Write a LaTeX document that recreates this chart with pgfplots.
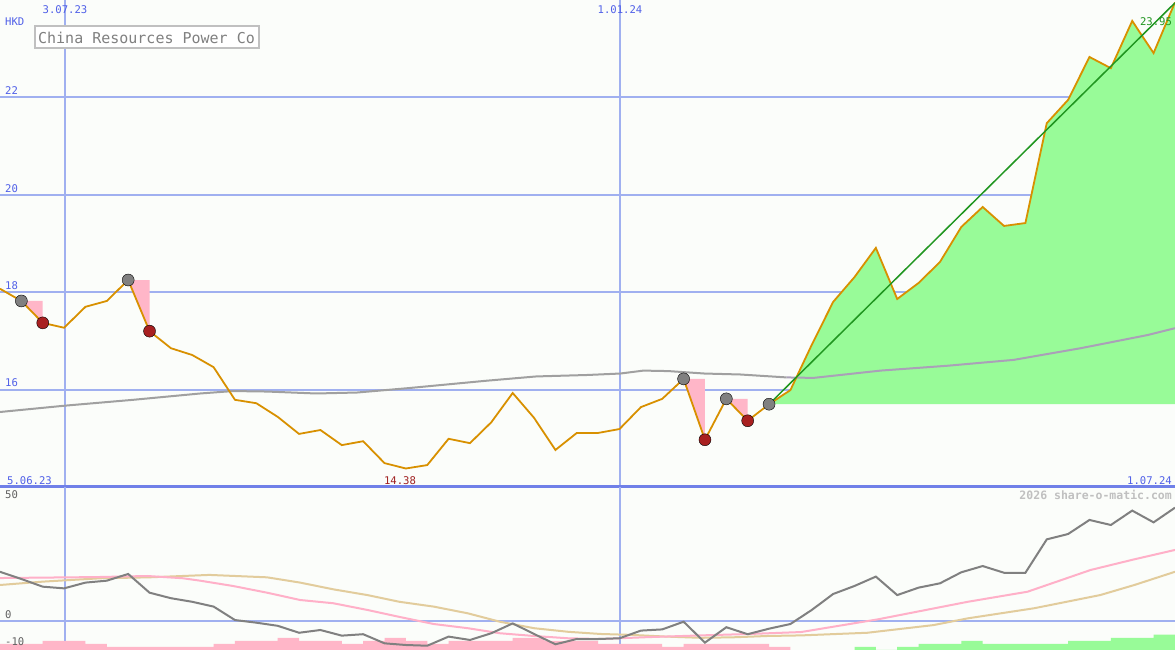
\documentclass[border=0pt]{standalone}
\usepackage{fontspec}
\setmainfont{DejaVu Sans Mono}
\usepackage{pgfplots}
\pgfplotsset{compat=1.18}
\definecolor{bgcol}{RGB}{251,253,250}
\definecolor{gridblue}{RGB}{160,176,240}
\definecolor{sepblue}{RGB}{112,128,232}
\definecolor{labblue}{RGB}{80,96,232}
\definecolor{pricecol}{RGB}{216,144,0}
\definecolor{magrey}{RGB}{160,160,160}
\definecolor{mapurple}{RGB}{170,160,184}
\definecolor{fillgreen}{RGB}{152,251,152}
\definecolor{trendgreen}{RGB}{32,150,32}
\definecolor{pinktri}{RGB}{255,182,200}
\definecolor{dotgrey}{RGB}{128,128,128}
\definecolor{dotred}{RGB}{168,32,32}
\definecolor{labred}{RGB}{160,32,32}
\definecolor{oscgrey}{RGB}{128,128,128}
\definecolor{oscpink}{RGB}{255,176,200}
\definecolor{osctan}{RGB}{226,204,156}
\definecolor{wmgrey}{RGB}{192,192,192}
\definecolor{boxgrey}{RGB}{192,192,192}
\definecolor{titlegrey}{RGB}{128,128,128}
\definecolor{textgrey}{RGB}{96,96,96}
\newcommand\lab{\fontsize{10.6}{12}\selectfont}
\begin{document}
\begin{tikzpicture}[x=1pt,y=1pt]
\fill[bgcol] (0,0) rectangle (1175,650);
% ---------------- main price panel
\begin{axis}[at={(0pt,163pt)}, anchor=south west, width=1175pt, height=487pt, scale only axis,
  xmin=0, xmax=55, ymin=14, ymax=24,
  axis line style={draw=none}, tick style={draw=none},
  xtick={3.04,29.04}, ytick={16,18,20,22}, xticklabels={}, yticklabels={},
  grid=major, major grid style={gridblue, line width=2pt}, clip=false]
% moving average
\addplot[magrey, line width=2pt] coordinates {
(0,15.54) (3.04,15.67) (6.23,15.79) (9.37,15.92) (10.91,15.97) (12.5,15.96) (14.8,15.92) (16.72,15.94)
(19.11,16.03) (22.72,16.18) (25.1,16.27) (27.5,16.30) (29.04,16.33) (30.12,16.39) (31.29,16.38)
(32.97,16.33) (34.66,16.31) (36.82,16.25)};
% green area above breakout level
\addplot[fill=fillgreen, draw=none] coordinates {
(36,15.70) (37,15.99) (38,16.92) (39,17.80) (40,18.31) (41,18.91) (42,17.86) (43,18.19) (44,18.62)
(45,19.34) (46,19.75) (47,19.36) (48,19.42) (49,21.47) (50,21.95) (51,22.83) (52,22.60) (53,23.57)
(54,22.91) (55,23.95) (55,15.70)} --cycle;
\addplot[mapurple, line width=2pt] coordinates {
(36.82,16.25) (38.08,16.24) (41.22,16.39) (44.36,16.49) (47.45,16.61) (50.59,16.85) (53.72,17.12) (55,17.26)};
% pink drop triangles
\addplot[fill=pinktri, draw=none] coordinates {(1,17.82) (2,17.82) (2,17.37)} --cycle;
\addplot[fill=pinktri, draw=none] coordinates {(6,18.25) (7,18.25) (7,17.20)} --cycle;
\addplot[fill=pinktri, draw=none] coordinates {(32,16.22) (33,16.22) (33,14.97)} --cycle;
\addplot[fill=pinktri, draw=none] coordinates {(34,15.81) (35,15.81) (35,15.36)} --cycle;
% circles
\addplot[only marks, mark=*, mark size=6pt, mark options={fill=dotgrey, draw=none}] coordinates {
(1,17.82) (6,18.25) (32,16.22) (34,15.81) (36,15.70)};
\addplot[only marks, mark=*, mark size=6pt, mark options={fill=dotred, draw=none}] coordinates {
(2,17.37) (7,17.20) (33,14.97) (35,15.36)};
% price
\addplot[pricecol, line width=1.8pt] coordinates {
(0,18.07) (1,17.82) (2,17.37) (3,17.27) (4,17.70) (5,17.82) (6,18.25) (7,17.20) (8,16.85) (9,16.71)
(10,16.46) (11,15.79) (12,15.72) (13,15.44) (14,15.09) (15,15.17) (16,14.86) (17,14.94) (18,14.49)
(19,14.38) (20,14.45) (21,14.99) (22,14.90) (23,15.33) (24,15.93) (25,15.42) (26,14.76) (27,15.11)
(28,15.11) (29,15.19) (30,15.64) (31,15.81) (32,16.22) (33,14.97) (34,15.81) (35,15.36) (36,15.70)
(37,15.99) (38,16.92) (39,17.80) (40,18.31) (41,18.91) (42,17.86) (43,18.19) (44,18.62) (45,19.34)
(46,19.75) (47,19.36) (48,19.42) (49,21.47) (50,21.95) (51,22.83) (52,22.60) (53,23.57) (54,22.91)
(55,23.95)};
% trend line
\addplot[trendgreen, line width=1.5pt] coordinates {(36,15.70) (55,23.94)};
\draw[sepblue, line width=3pt] (axis cs:0,14) -- (axis cs:55,14);
\end{axis}
% ---------------- lower panel grid
\begin{axis}[at={(0pt,0pt)}, anchor=south west, width=1175pt, height=163pt, scale only axis,
  xmin=0, xmax=55, ymin=-12.08, ymax=55.83,
  axis line style={draw=none}, tick style={draw=none},
  xtick={3.04,29.04}, ytick={0}, xticklabels={}, yticklabels={},
  grid=major, major grid style={gridblue, line width=2pt}]
\addplot[draw=none] coordinates {(0,0)};
\end{axis}
% ---------------- lower panel histogram
\begin{axis}[at={(0pt,0pt)}, anchor=south west, width=1175pt, height=163pt, scale only axis,
  xmin=0, xmax=55, ymin=0, ymax=53.4, hide axis]
\addplot[ybar interval, fill=pinktri, draw=none] coordinates {
(0,2) (2,3) (4,2) (5,1) (10,2) (11,3) (13,4) (14,3) (16,2) (17,3) (18,4) (19,3) (20,2) (21,3)
(24,4) (25.5,3) (28,2) (31,1) (32,2) (36,1) (37,1)};
\addplot[ybar interval, fill=fillgreen, draw=none] coordinates {
(40,1) (41,0) (42,1) (43,2) (45,3) (46,2) (50,3) (52,4) (54,5) (55,5)};
\end{axis}
% ---------------- lower panel lines
\begin{axis}[at={(0pt,0pt)}, anchor=south west, width=1175pt, height=163pt, scale only axis,
  xmin=0, xmax=55, ymin=-12.08, ymax=55.83, hide axis]
\addplot[osctan, line width=2pt] coordinates {
(0,15.0) (2.0,16.4) (4.7,17.8) (7.0,18.2) (9.8,19.2) (12.5,18.2) (14.05,16.0) (15.6,13.2) (17.2,10.8)
(18.7,8.0) (20.3,6.0) (21.9,3.2) (23.4,-0.3) (25.0,-3.0) (26.6,-4.5) (28.1,-5.4) (29.6,-5.8) (31.2,-6.5)
(32.8,-7.0) (34.3,-6.8) (35.9,-6.25) (37.5,-6.0) (40.6,-4.9) (43.7,-1.7) (45.3,1.1) (48.4,5.3)
(51.5,10.8) (53.1,15.0) (55,20.5)};
\addplot[oscpink, line width=2pt] coordinates {
(0,17.9) (4.5,18.3) (6.9,18.75) (8.57,17.8) (9.37,16.8) (10.9,14.6) (12.5,11.8) (14.05,8.75)
(15.6,7.4) (17.2,4.6) (18.7,1.7) (20.3,-1.25) (21.9,-3.0) (23.4,-5.1) (25.0,-6.25) (26.6,-7.2)
(28.1,-7.5) (30.4,-6.7) (32.8,-6.0) (35.1,-5.4) (37.5,-4.6) (41.1,0.7) (45.3,8.0) (48.1,12.2)
(51.05,21.25) (53.1,25.7) (55,29.6)};
\addplot[oscgrey, line width=2pt] coordinates {
(0,20.5) (1,17.5) (2,14.3) (3,13.6) (4,16.0) (5,16.8) (6,19.6) (7,11.8) (8,9.5) (9,8.0) (10,6.0)
(11,0.4) (12,-0.7) (13,-2.0) (14,-4.9) (15,-3.75) (16,-6.1) (17,-5.5) (18,-9.3) (19,-10.0)
(20,-10.3) (21,-6.5) (22,-7.9) (23,-5.1) (24,-1.0) (25,-5.4) (26,-9.7) (27,-7.5) (28,-7.5)
(29,-7.2) (30,-4.0) (31,-3.5) (32,-0.3) (33,-9.0) (34,-2.6) (35,-5.5) (36,-3.2) (37,-1.25)
(38,4.6) (39,11.25) (40,14.6) (41,18.5) (42,10.8) (43,13.9) (44,15.7) (45,20.3) (46,22.9)
(47,20.1) (48,20.1) (49,34.0) (50,36.25) (51,42.1) (52,40.0) (53,46.0) (54,41.1) (55,47.2)};
\end{axis}
% ---------------- texts
\begin{scope}[every node/.style={inner sep=0pt, font=\lab}]
\node[anchor=base, text=labblue] at (65,636) {3.07.23};
\node[anchor=base, text=labblue] at (620,636) {1.01.24};
\node[anchor=base west, text=labblue] at (5,624) {HKD};
\node[anchor=base west, text=labblue] at (5,555) {22};
\node[anchor=base west, text=labblue] at (5,457) {20};
\node[anchor=base west, text=labblue] at (5,360) {18};
\node[anchor=base west, text=labblue] at (5,263) {16};
\node[anchor=base west, text=labblue] at (7,165) {5.06.23};
\node[anchor=base east, text=labblue] at (1172,165) {1.07.24};
\node[anchor=base, text=labred] at (400,165) {14.38};
\node[anchor=base, text=trendgreen] at (1156,624) {23.95};
\node[anchor=base west, text=textgrey] at (5,151) {50};
\node[anchor=base west, text=textgrey] at (5,31) {0};
\node[anchor=base west, text=textgrey] at (5,4) {-10};
\node[anchor=base east, text=wmgrey, font=\fontsize{11.5}{12}\selectfont\bfseries] at (1172,150) {2026 share-o-matic.com};
\end{scope}
\node[draw=boxgrey, line width=2pt, fill=white, text=titlegrey, anchor=north west, minimum width=224pt,
  minimum height=22pt, inner sep=0pt, font=\fontsize{15}{15}\selectfont] at (33.5,624.5) {China Resources Power Co};
\pgfresetboundingbox
\useasboundingbox (0,0) rectangle (1175,650);
\end{tikzpicture}
\end{document}
